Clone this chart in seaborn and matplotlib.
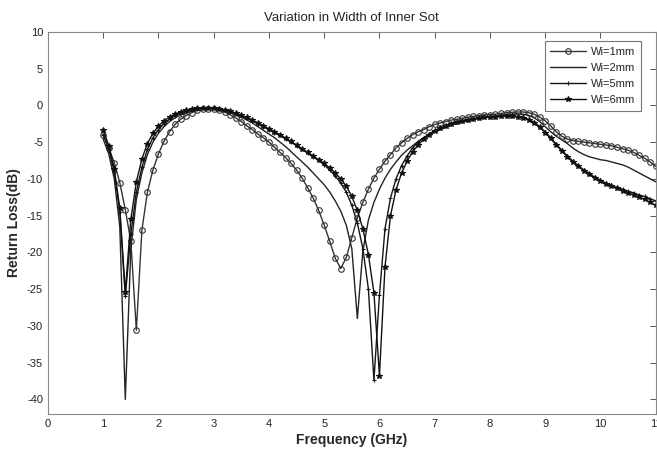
import numpy as np
import pandas as pd
import seaborn as sns
import matplotlib
matplotlib.use("Agg")
import matplotlib.pyplot as plt

sns.set_style("white")
sns.set_context("paper")
plt.rcParams['font.family'] = ['Liberation Sans', 'DejaVu Sans']
plt.rcParams['axes.unicode_minus'] = False

# frequency samples (GHz), 0.1 GHz steps
freq = np.linspace(1.0, 11.0, 101)

wi_1mm = [-4.0, -5.8, -7.8, -10.5, -14.2, -18.5, -30.6, -17.0, -11.8, -8.8,
          -6.6, -4.9, -3.6, -2.6, -1.9, -1.4, -1.0, -0.7, -0.5, -0.45,
          -0.5, -0.65, -0.9, -1.3, -1.7, -2.2, -2.8, -3.3, -3.9, -4.4,
          -5.0, -5.7, -6.4, -7.1, -7.9, -8.8, -9.9, -11.2, -12.6, -14.3,
          -16.3, -18.5, -20.8, -22.2, -20.7, -18.0, -15.3, -13.2, -11.4, -9.9,
          -8.7, -7.6, -6.7, -5.8, -5.1, -4.5, -4.0, -3.6, -3.3, -2.9,
          -2.6, -2.4, -2.2, -2.0, -1.9, -1.75, -1.6, -1.5, -1.4, -1.3,
          -1.25, -1.2, -1.1, -1.0, -0.95, -0.9, -0.9, -1.0, -1.2, -1.6,
          -2.1, -2.8, -3.6, -4.2, -4.6, -4.8, -4.9, -5.0, -5.1, -5.2,
          -5.3, -5.4, -5.5, -5.7, -5.9, -6.1, -6.4, -6.8, -7.2, -7.7,
          -8.3]

wi_2mm = [-4.6, -6.6, -10.0, -16.5, -40.0, -19.5, -12.8, -9.2, -6.7, -5.0,
          -3.8, -2.9, -2.2, -1.7, -1.3, -1.0, -0.8, -0.6, -0.5, -0.45,
          -0.45, -0.55, -0.75, -1.0, -1.3, -1.6, -2.0, -2.4, -2.9, -3.4,
          -3.9, -4.4, -5.0, -5.6, -6.3, -7.0, -7.7, -8.4, -9.2, -10.0,
          -10.8, -11.8, -13.0, -14.4, -16.3, -19.5, -29.0, -19.8, -15.6, -13.2,
          -11.4, -9.9, -8.7, -7.7, -6.8, -6.1, -5.5, -4.9, -4.4, -4.0,
          -3.6, -3.3, -3.0, -2.7, -2.5, -2.3, -2.1, -1.9, -1.8, -1.7,
          -1.55, -1.45, -1.35, -1.25, -1.2, -1.15, -1.2, -1.35, -1.7, -2.2,
          -2.9, -3.6, -4.2, -4.7, -5.2, -5.8, -6.3, -6.7, -7.0, -7.2,
          -7.4, -7.5, -7.7, -7.9, -8.1, -8.4, -8.8, -9.2, -9.6, -10.0,
          -10.4]

wi_5mm = [-4.0, -5.9, -9.0, -14.5, -26.0, -17.5, -11.8, -8.4, -6.0, -4.4,
          -3.3, -2.5, -1.9, -1.4, -1.05, -0.8, -0.6, -0.45, -0.35, -0.3,
          -0.35, -0.45, -0.65, -0.85, -1.1, -1.4, -1.75, -2.1, -2.5, -2.9,
          -3.3, -3.7, -4.1, -4.6, -5.0, -5.5, -6.0, -6.5, -7.0, -7.5,
          -8.1, -8.8, -9.6, -10.6, -11.8, -13.6, -16.0, -19.5, -25.0, -37.4,
          -25.8, -16.8, -12.6, -10.0, -8.2, -6.9, -5.8, -5.0, -4.4, -3.9,
          -3.4, -3.1, -2.8, -2.5, -2.3, -2.1, -2.0, -1.85, -1.75, -1.65,
          -1.6, -1.55, -1.5, -1.5, -1.5, -1.55, -1.65, -1.9, -2.3, -2.9,
          -3.6, -4.4, -5.3, -6.1, -6.9, -7.6, -8.2, -8.8, -9.3, -9.8,
          -10.2, -10.6, -10.9, -11.2, -11.4, -11.7, -11.9, -12.2, -12.4, -12.7,
          -13.0]

wi_6mm = [-3.3, -5.5, -8.6, -14.0, -25.4, -15.5, -10.4, -7.3, -5.2, -3.8,
          -2.8, -2.1, -1.6, -1.2, -0.9, -0.65, -0.45, -0.35, -0.3, -0.3,
          -0.35, -0.45, -0.6, -0.8, -1.05, -1.35, -1.65, -2.0, -2.4, -2.8,
          -3.2, -3.6, -4.0, -4.45, -4.9, -5.4, -5.9, -6.4, -6.9, -7.4,
          -7.9, -8.5, -9.2, -10.0, -11.0, -12.4, -14.3, -16.8, -20.3, -25.5,
          -36.8, -22.0, -15.0, -11.5, -9.2, -7.6, -6.3, -5.4, -4.6, -4.0,
          -3.5, -3.1, -2.8, -2.5, -2.3, -2.1, -2.0, -1.85, -1.75, -1.65,
          -1.6, -1.55, -1.5, -1.5, -1.5, -1.55, -1.7, -1.95, -2.4, -3.0,
          -3.7, -4.5, -5.4, -6.2, -7.0, -7.7, -8.3, -8.9, -9.4, -9.9,
          -10.3, -10.7, -11.0, -11.3, -11.6, -11.9, -12.2, -12.5, -12.8, -13.2,
          -13.6]

labels = ['Wi=1mm', 'Wi=2mm', 'Wi=5mm', 'Wi=6mm']
series = [wi_1mm, wi_2mm, wi_5mm, wi_6mm]
markers = ['o', None, '+', '*']
msizes = [4.0, 0, 3.2, 4.2]
fills = ['none', None, 'none', '#111111']
colors = ['#333333', '#222222', '#151515', '#111111']

fig = plt.figure(figsize=(6.57, 4.55), dpi=100)
ax = fig.add_axes([0.073, 0.090, 0.925, 0.840])

for lab, vals, mk, ms, fc, c in zip(labels, series, markers, msizes, fills, colors):
    df = pd.DataFrame({'f': freq, 'rl': vals})
    kw = dict(marker=mk, markersize=ms, markerfacecolor=fc,
              markeredgecolor=c, markeredgewidth=0.8) if mk else {}
    sns.lineplot(x='f', y='rl', data=df, color=c, linewidth=1.0,
                 label=lab, ax=ax, **kw)

ax.set_xlim(0, 11)
ax.set_ylim(-42, 10)
ax.set_xticks(range(0, 12))
ax.set_yticks(range(-40, 11, 5))
ax.tick_params(direction='in', length=4, width=0.7, colors='#555555',
               labelcolor='#222222', labelsize=8, top=True, right=True)
for s in ax.spines.values():
    s.set_color('#888888')
    s.set_linewidth(0.8)

ax.set_xlabel('Frequency (GHz)', fontsize=10, fontweight='bold', labelpad=3)
ax.set_ylabel('Return Loss(dB)', fontsize=10, fontweight='bold', labelpad=3)
ax.yaxis.set_label_coords(-0.045, 0.5)
ax.set_title('Variation in Width of Inner Sot', fontsize=9.5, pad=8)

leg = ax.legend(loc='upper right', bbox_to_anchor=(0.985, 0.99), fontsize=8,
                frameon=True, fancybox=False, handlelength=3.2,
                borderpad=0.5, labelspacing=0.55, handletextpad=0.5)
leg.get_frame().set_edgecolor('#555555')
leg.get_frame().set_linewidth(0.8)

plt.savefig('out.png', dpi=100)
